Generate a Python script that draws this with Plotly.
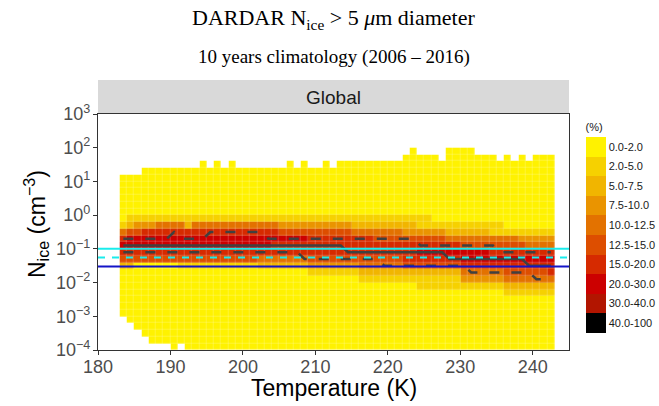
import plotly.graph_objects as go

# ---------------- data ----------------
# temperature bin edges (K), 1 K bins
temp_edges = list(range(183, 244))
temp_centers = [t + 0.5 for t in range(183, 243)]
# log10(Nice) bin edges (0.2 decade bins)
logn_edges = [round(-4.0 + 0.2 * i, 1) for i in range(31)]

# frequency class per cell ('.' = no data, '0'..'9' = legend class)
# rows from top bin [1.8, 2.0] down to bottom bin [-4.0, -3.8]
# columns 183 K ... 242 K, written in groups of ten
freq_rows = [
    ".......... .......... .......... .......... 0....0000. ..........",  # 1.8
    ".......... .......... .......... .........0 0000.00000 00.0.0.000",  # 1.6
    ".......... .0.0.0.... ...0.0..0. 0000000000 0000000000 0000000000",  # 1.4
    "...0000000 0000000000 0000000000 0000000000 0000000000 0000000000",  # 1.2
    "0000000000 0000000000 0000000000 0000000000 0000000000 0000000000",  # 1.0
    "0000000000 0000000000 0000000000 0000000000 0000000000 0000000000",  # 0.8
    "0000000000 0000000000 0000000000 0000000000 0000000000 0000000000",  # 0.6
    "0000000000 0000000000 0000000000 0000000000 0000000000 0000000000",  # 0.4
    "0000000000 0000000000 0000000000 0000000000 0000000000 0000000000",  # 0.2
    "0000000000 0000000000 0000000000 0000000000 0000000000 0000000000",  # 0.0
    "0111111111 1111111111 1111111111 1111111111 1110000000 0000000000",  # -0.2
    "1233344442 4444444444 4433333333 3322222222 2111111111 1110000000",  # -0.4
    "4556666666 6666666666 6655555555 5544444443 3333322222 2111111111",  # -0.6
    "6777777777 7777777777 7777776666 6666655555 5555544444 4444433333",  # -0.8
    "7777777777 7777777777 7666666666 6666666666 6666666555 5555554444",  # -1.0
    "6666666666 6666666666 6666666666 6666666666 6777777777 7666666666",  # -1.2
    "5555555555 5555555554 4444445555 5555555556 6666666777 7777777777",  # -1.4
    "2200000011 1111111112 2222223333 3334444445 5555555666 6666666666",  # -1.6
    "0000000000 0000000000 0000001111 1112222222 2222222444 4445555556",  # -1.8
    "0000000000 0000000000 0000000000 0001111111 1111111333 3334444444",  # -2.0
    "0000000000 0000000000 0000000000 0000000000 0111111111 1112222222",  # -2.2
    "0000000000 0000000000 0000000000 0000000000 0000000000 0001111111",  # -2.4
    "0000000000 0000000000 0000000000 0000000000 0000000000 0000000000",  # -2.6
    "0000000000 0000000000 0000000000 0000000000 0000000000 0000000000",  # -2.8
    "0000000000 0000000000 0000000000 0000000000 0000000000 0000000000",  # -3.0
    ".000000000 0000000000 0000000000 0000000000 0000000000 0000000000",  # -3.2
    "..00000000 0000000000 0000000000 0000000000 0000000000 0000000000",  # -3.4
    "...0000000 0000000000 0000000000 0000000000 0000000000 0000000000",  # -3.6
    "....000000 0000000000 0000000000 0000000000 0000000000 0000000000",  # -3.8
    ".......0.0 0000000000 0000000000 0000000000 0000000000 0000000000",  # -4.0
]

# percentile lines, log10(Nice) per temperature column (183 K ... 242 K)
q75_log = [-0.7, -0.7, -0.7, -0.7, -0.7, -0.7, -0.7, -0.5, -0.7, -0.7,
           -0.7, -0.7, -0.5, -0.5, -0.5, -0.5, -0.5, -0.5, -0.5, -0.5,
           -0.7, -0.7, -0.7, -0.7, -0.7, -0.7, -0.7, -0.7, -0.7, -0.7,
           -0.7, -0.7, -0.7, -0.7, -0.7, -0.7, -0.7, -0.7, -0.7, -0.7,
           -0.7, -0.9, -0.9, -0.9, -0.9, -0.9, -0.9, -0.9, -0.9, -0.9,
           -0.9, -0.9, -1.1, -1.1, -1.1, -1.1, -1.1, -1.1, -1.1, -1.1]
median_log = [-0.9, -0.9, -0.9, -0.9, -0.9, -0.9, -0.9, -0.9, -0.9, -0.9,
              -0.9, -0.9, -0.9, -0.9, -0.9, -0.9, -0.9, -0.9, -0.9, -0.9,
              -0.9, -0.9, -0.9, -0.9, -0.9, -0.9, -0.9, -0.9, -0.9, -0.9,
              -0.9, -1.1, -1.1, -1.1, -1.1, -1.1, -1.1, -1.1, -1.1, -1.1,
              -1.1, -1.1, -1.1, -1.1, -1.1, -1.3, -1.3, -1.3, -1.3, -1.3,
              -1.3, -1.3, -1.3, -1.3, -1.3, -1.3, -1.5, -1.5, -1.5, -1.5]
q25_log = [-1.1, -1.1, -1.1, -1.1, -1.1, -1.1, -1.1, -1.1, -1.1, -1.1,
           -1.1, -1.1, -1.1, -1.1, -1.1, -1.1, -1.1, -1.1, -1.1, -1.1,
           -1.1, -1.1, -1.1, -1.1, -1.1, -1.3, -1.3, -1.3, -1.3, -1.3,
           -1.3, -1.3, -1.3, -1.3, -1.3, -1.3, -1.5, -1.5, -1.5, -1.5,
           -1.5, -1.5, -1.5, -1.5, -1.5, -1.5, -1.5, -1.5, -1.7, -1.7,
           -1.7, -1.7, -1.7, -1.7, -1.7, -1.7, -1.7, -1.9, -1.9, -1.9]

# reference horizontal lines (cm^-3)
ref_cyan_solid = 0.1
ref_cyan_dashed = 0.055
ref_blue = 0.03

# legend classes
class_labels = ["0.0-2.0", "2.0-5.0", "5.0-7.5", "7.5-10.0", "10.0-12.5",
                "12.5-15.0", "15.0-20.0", "20.0-30.0", "30.0-40.0", "40.0-100"]
class_colors = ["#FFF200", "#F6D100", "#F1B500", "#EA9400", "#E37200",
                "#DD4E00", "#D62A00", "#CC0000", "#B21500", "#000000"]

x_ticks = [180, 190, 200, 210, 220, 230, 240]
y_ticks = [1e-4, 1e-3, 1e-2, 1e-1, 1e0, 1e1, 1e2, 1e3]
y_tick_text = ["10<sup>\u22124</sup>", "10<sup>\u22123</sup>", "10<sup>\u22122</sup>",
               "10<sup>\u22121</sup>", "10<sup>0</sup>", "10<sup>1</sup>",
               "10<sup>2</sup>", "10<sup>3</sup>"]

# ---------------- build figure ----------------
n = len(class_colors)
grid = [row.replace(" ", "") for row in freq_rows]
# level = n-1-class so that the first class sits at the top of the colour bar
z = [[None if c == "." else (n - 1 - int(c)) for c in row] for row in reversed(grid)]

colorscale = []
for lvl in range(n):
    col = class_colors[n - 1 - lvl]
    colorscale.append([lvl / n, col])
    colorscale.append([(lvl + 1) / n, col])

W, H = 659, 406
L, R, T, B = 98, 90, 114, 56
pw, ph = W - L - R, H - T - B


def py(p):  # pixel row -> paper y
    return (H - B - p) / ph


def px(p):  # pixel column -> paper x
    return (p - L) / pw


fig = go.Figure()
fig.add_trace(go.Heatmap(
    x=temp_edges, y=[10 ** e for e in logn_edges], z=z,
    zmin=-0.5, zmax=n - 0.5, colorscale=colorscale, hoverinfo="skip",
    xgap=0.2, ygap=0.2,
    colorbar=dict(
        title=dict(text="(%)", side="top", font=dict(size=11, color="#1A1A1A", family="Liberation Sans")),
        tickvals=list(range(n - 1, -1, -1)), ticktext=class_labels,
        ticks="", ticklen=0, outlinewidth=0, thickness=20,
        lenmode="pixels", len=213,
        x=px(585.5), xanchor="left", xpad=0,
        y=py(226.5), yanchor="middle", ypad=0,
        tickfont=dict(size=11, color="#1A1A1A", family="Liberation Sans"),
    ),
))

line_col = "#404040"
for vals, dash in [(q75_log, "10px,12px"), (median_log, "solid"), (q25_log, "10px,12px")]:
    fig.add_trace(go.Scatter(x=temp_centers, y=[10 ** v for v in vals], mode="lines",
                             line=dict(color=line_col, width=2.6, dash=dash),
                             hoverinfo="skip", showlegend=False))

for val, col, dash in [(ref_cyan_solid, "#1AECEC", "solid"),
                       (ref_cyan_dashed, "#1AECEC", "7px,7px"),
                       (ref_blue, "#1414C8", "solid")]:
    fig.add_trace(go.Scatter(x=[180, 245], y=[val, val], mode="lines",
                             line=dict(color=col, width=2, dash=dash),
                             hoverinfo="skip", showlegend=False))

axis_font = dict(size=18, color="#4D4D4D", family="Liberation Sans")
common = dict(showgrid=False, zeroline=False, showline=True, linecolor="#333333",
              linewidth=1.1, mirror=True, ticks="outside", ticklen=4,
              tickcolor="#333333", tickfont=axis_font, automargin=False)

fig.update_layout(
    width=W, height=H,
    margin=dict(l=L, r=R, t=T, b=B, autoexpand=False),
    paper_bgcolor="white", plot_bgcolor="white",
    showlegend=False,
    font=dict(family="Liberation Sans"),
    xaxis=dict(range=[180, 245], tickvals=x_ticks, ticklabelstandoff=-4, **common),
    yaxis=dict(type="log", range=[-4, 3], tickvals=y_ticks, ticktext=y_tick_text,
               ticklabelstandoff=-1, **common),
    shapes=[dict(type="rect", xref="paper", yref="paper", x0=0, x1=1,
                 y0=1, y1=py(80), fillcolor="#D9D9D9", line=dict(width=0), layer="below")],
    annotations=[
        dict(text="DARDAR N<sub>ice</sub> > 5 <i>\u03bc</i>m diameter", xref="paper", yref="paper",
             x=0.5, y=py(19), xanchor="center", yanchor="middle", showarrow=False,
             font=dict(family="Liberation Serif", size=22, color="black")),
        dict(text="10 years climatology (2006 \u2013 2016)", xref="paper", yref="paper",
             x=0.5, y=py(57), xanchor="center", yanchor="middle", showarrow=False,
             font=dict(family="Liberation Serif", size=19, color="black")),
        dict(text="Global", xref="paper", yref="paper", x=0.5, y=py(97),
             xanchor="center", yanchor="middle", showarrow=False,
             font=dict(size=19, color="#1A1A1A")),
        dict(text="Temperature (K)", xref="paper", yref="paper", x=0.5, y=py(388),
             xanchor="center", yanchor="middle", showarrow=False,
             font=dict(size=23, color="black")),
        dict(text="N<sub>ice</sub> (cm<sup>\u22123</sup>)", xref="paper", yref="paper",
             x=px(36), y=py(224), xanchor="center", yanchor="middle", showarrow=False,
             textangle=-90, font=dict(size=23, color="black")),
    ],
)

fig.write_html("out.html", config={"displayModeBar": False},
               post_script="document.body.style.margin='0px';")
